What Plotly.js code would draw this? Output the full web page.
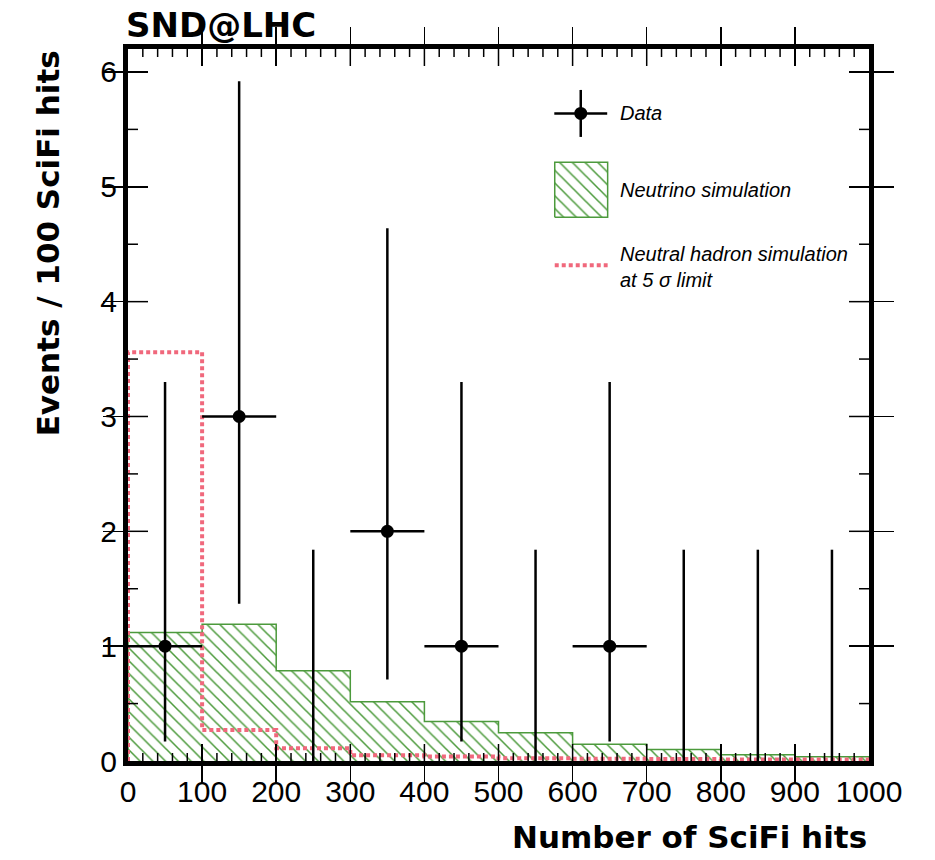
<!DOCTYPE html>
<html>
<head>
<meta charset="utf-8">
<script src="https://cdn.plot.ly/plotly-3.0.1.min.js"></script>
<style>html,body{margin:0;padding:0;background:#fff;}</style>
</head>
<body>
<div id="chart" style="width:935px;height:860px;"></div>
<script>
// ---- data ----
const binEdges = [0, 100, 200, 300, 400, 500, 600, 700, 800, 900, 1000];
const binCenters = [50, 150, 250, 350, 450, 550, 650, 750, 850, 950];
const dataCounts = [1, 3, 0, 2, 1, 0, 1, 0, 0, 0];
const dataUpperEnd = [3.30, 5.92, 1.84, 4.64, 3.30, 1.84, 3.30, 1.84, 1.84, 1.84];
const dataLowerEnd = [0.17, 1.37, 0, 0.71, 0.17, 0, 0.17, 0, 0, 0];
const neutrinoSim = [1.12, 1.19, 0.785, 0.515, 0.345, 0.245, 0.145, 0.10, 0.055, 0.037];
const hadronSim = [3.56, 0.27, 0.11, 0.05, 0.04, 0.025, 0.02, 0.017, 0.014, 0.012];

const GREEN = '#4c9a3c';
const RED = '#f0687c';
const FONT = 'Liberation Sans, Arial, Helvetica, sans-serif';
const BOLDFONT = 'DejaVu Sans, Liberation Sans, sans-serif';
const X_RANGE = [0, 1000];
const Y_RANGE = [0, 6.2];

function stepX(edges) { return [edges[0]].concat(edges, [edges[edges.length - 1]]); }
function stepY(vals) { return [0].concat(vals, [vals[vals.length - 1], 0]); }

// ---- ROOT-style ticks on all four sides (axis decoration, as line paths) ----
const X_MINOR = 20, X_MAJOR = 100, Y_MINOR = 0.5, Y_MAJOR = 1;
const PLOT_W = 741.5, PLOT_H = 713;
const xTickPathX = [], xTickPathY = [];
for (let i = 1; i * X_MINOR < X_RANGE[1]; i++) {
  const v = i * X_MINOR;
  const len = (v % X_MAJOR === 0 ? 17 : 8) / PLOT_H;
  xTickPathX.push(v, v, null, v, v, null);
  xTickPathY.push(0, len, null, 1, 1 - len, null);
}
const yTickPathX = [], yTickPathY = [];
for (let j = 1; j * Y_MINOR < Y_RANGE[1]; j++) {
  const v = j * Y_MINOR;
  const len = (j % 2 === 0 ? 20 : 10) / PLOT_W;
  yTickPathX.push(0, len, null, 1, 1 - len, null);
  yTickPathY.push(v, v, null, v, v, null);
}

const traces = [
  {
    type: 'scatter', mode: 'lines',
    x: stepX(binEdges), y: stepY(neutrinoSim),
    line: {shape: 'hv', color: GREEN, width: 1.5},
    fill: 'tozeroy', fillcolor: 'rgba(0,0,0,0)',
    fillpattern: {shape: '\\', fgcolor: GREEN, bgcolor: 'rgba(255,255,255,0)', size: 9, solidity: 0.17},
    hoverinfo: 'skip', showlegend: false
  },
  {
    type: 'scatter', mode: 'lines',
    x: stepX(binEdges), y: stepY(hadronSim),
    line: {shape: 'hv', color: RED, width: 4, dash: '4px,3px'},
    hoverinfo: 'skip', showlegend: false
  },
  {
    type: 'scatter', mode: 'markers',
    x: binCenters, y: dataCounts,
    marker: {color: 'black', opacity: 1, size: dataCounts.map(v => v > 0 ? 13 : 0), line: {width: 0}},
    error_y: {type: 'data', symmetric: false,
      array: dataUpperEnd.map((u, i) => u - dataCounts[i]),
      arrayminus: dataLowerEnd.map((l, i) => dataCounts[i] - l),
      color: 'black', thickness: 2.5, width: 0},
    error_x: {type: 'data', symmetric: true,
      array: dataCounts.map((v, i) => v > 0 ? (binEdges[i + 1] - binEdges[i]) / 2 : 0),
      color: 'black', thickness: 2.5, width: 0},
    cliponaxis: false,
    showlegend: false
  },
  // tick marks: x positions in data units, lengths as fractions of the plot
  {
    type: 'scatter', mode: 'lines', xaxis: 'x', yaxis: 'y2',
    x: xTickPathX, y: xTickPathY, connectgaps: false,
    line: {color: 'black', width: 1.5}, hoverinfo: 'skip', showlegend: false
  },
  {
    type: 'scatter', mode: 'lines', xaxis: 'x2', yaxis: 'y',
    x: yTickPathX, y: yTickPathY, connectgaps: false,
    line: {color: 'black', width: 1.5}, hoverinfo: 'skip', showlegend: false
  },
  // ---- custom legend (on overlay axes spanning the plot area, 0..1) ----
  {
    type: 'scatter', mode: 'markers', xaxis: 'x2', yaxis: 'y2',
    x: [0.611], y: [0.9095],
    marker: {color: 'black', opacity: 1, size: 13},
    error_x: {type: 'data', array: [0.0357], color: 'black', thickness: 2.5, width: 0},
    error_y: {type: 'data', array: [0.033], color: 'black', thickness: 2.5, width: 0},
    hoverinfo: 'skip', showlegend: false
  },
  {
    type: 'scatter', mode: 'lines', xaxis: 'x2', yaxis: 'y2',
    x: [0.5759, 0.6473, 0.6473, 0.5759, 0.5759], y: [0.7637, 0.7637, 0.841, 0.841, 0.7637],
    line: {color: GREEN, width: 1.5},
    fill: 'toself', fillcolor: 'rgba(0,0,0,0)',
    fillpattern: {shape: '\\', fgcolor: GREEN, bgcolor: 'rgba(255,255,255,0)', size: 9, solidity: 0.17},
    hoverinfo: 'skip', showlegend: false
  },
  {
    type: 'scatter', mode: 'lines', xaxis: 'x2', yaxis: 'y2',
    x: [0.5759, 0.6473], y: [0.6964, 0.6964],
    line: {color: RED, width: 4, dash: '4px,3px'},
    hoverinfo: 'skip', showlegend: false
  }
];

const tickFont = {family: FONT, size: 30, color: 'black'};
const legendFont = {family: FONT, size: 20, color: 'black', style: 'italic'};
const titleFont = {family: BOLDFONT, size: 31, color: 'black', weight: 'bold'};

const layout = {
  width: 935, height: 860,
  margin: {l: 128, r: 65.5, t: 48.5, b: 98.5, pad: 0},
  paper_bgcolor: 'white', plot_bgcolor: 'white',
  showlegend: false,
  xaxis: {
    range: X_RANGE, tickmode: 'linear', tick0: 0, dtick: 100,
    ticks: 'inside', ticklen: 17, tickwidth: 1.5, tickcolor: 'black',
    showline: true, linewidth: 5, linecolor: 'black', mirror: 'allticks',
    showgrid: false, zeroline: false, tickfont: tickFont, fixedrange: true
  },
  yaxis: {
    range: Y_RANGE, tickmode: 'linear', tick0: 0, dtick: 1,
    ticks: 'inside', ticklen: 20, tickwidth: 1.5, tickcolor: 'black',
    showline: true, linewidth: 5, linecolor: 'black', mirror: 'allticks',
    showgrid: false, zeroline: false, tickfont: tickFont, fixedrange: true
  },
  xaxis2: {range: [0, 1], overlaying: 'x', visible: false, fixedrange: true},
  yaxis2: {range: [0, 1], overlaying: 'y', visible: false, fixedrange: true},
  annotations: [
    {text: 'SND@LHC', xref: 'paper', yref: 'paper', x: 0, y: 1.034, xanchor: 'left', yanchor: 'middle',
     xshift: -4, showarrow: false, font: {family: BOLDFONT, size: 34, color: 'black', weight: 'bold'}},
    {text: 'Number of SciFi hits', xref: 'paper', yref: 'paper', x: 1, y: -0.107, xanchor: 'right', yanchor: 'middle',
     showarrow: false, font: titleFont},
    {text: 'Events / 100 SciFi hits', xref: 'paper', yref: 'paper', x: -0.108, y: 0.727, xanchor: 'center', yanchor: 'middle',
     textangle: -90, showarrow: false, font: titleFont},
    {text: 'Data', xref: 'x2', yref: 'y2', x: 0.6615, y: 0.9095, xanchor: 'left', yanchor: 'middle',
     showarrow: false, font: legendFont},
    {text: 'Neutrino simulation', xref: 'x2', yref: 'y2', x: 0.6615, y: 0.8016, xanchor: 'left', yanchor: 'middle',
     showarrow: false, font: legendFont},
    {text: 'Neutral hadron simulation<br>at 5 σ limit', xref: 'x2', yref: 'y2', x: 0.6615, y: 0.6936, xanchor: 'left', yanchor: 'middle',
     align: 'left', showarrow: false, font: legendFont}
  ]
};

Plotly.newPlot('chart', traces, layout, {displayModeBar: false, staticPlot: true});
</script>
</body>
</html>
